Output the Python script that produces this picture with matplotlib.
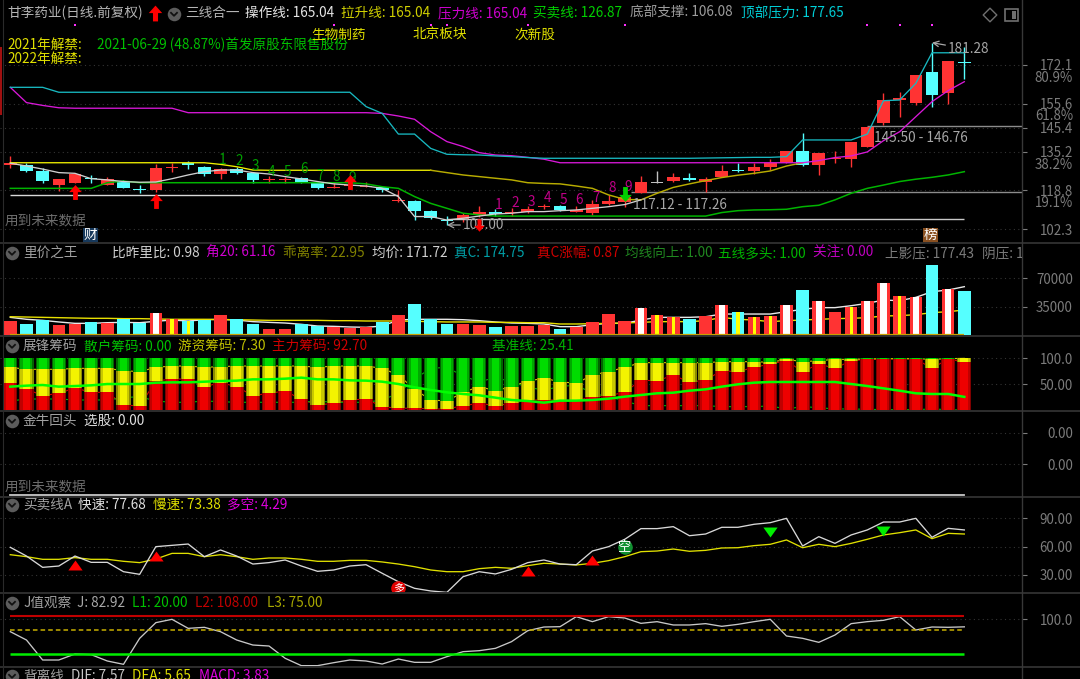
import matplotlib
matplotlib.use('Agg')
import matplotlib.pyplot as plt
import numpy as np
from matplotlib.patches import Rectangle

plt.rcParams['font.family'] = ['Noto Sans CJK SC', 'DejaVu Sans']
plt.rcParams['axes.unicode_minus'] = False

W, H = 1080, 679
FS = 9.8

# main panel, prices per bar
body_top = [130.3,129.7,126.9,123.4,125.7,124.2,123.4,122.9,119.2,128.4,128.6,130.6,128.8,127.7,127.8,126.0,123.6,123.4,123.9,121.7,
            120.0,121.0,120.8,120.3,114.7,114.4,110.0,106.1,108.1,109.5,109.5,109.5,111.0,112.1,112.0,110.4,113.0,114.4,116.1,122.5,
            122.5,124.6,124.0,123.4,127.0,127.4,128.8,130.5,135.6,135.6,134.5,132.4,139.3,145.9,157.2,158.2,167.8,169.0,173.7,173.5]
body_bot = [129.7,127.1,122.6,121.2,122.0,123.7,121.0,119.8,118.8,118.9,128.1,129.6,125.7,125.6,126.1,123.0,123.2,123.0,122.2,119.8,
            119.8,120.5,120.3,118.8,114.1,110.1,106.8,105.9,106.0,108.1,108.8,109.0,109.5,111.5,110.4,109.7,109.3,113.0,114.0,117.8,
            122.0,122.6,123.0,122.2,124.5,127.0,126.9,128.8,130.5,129.4,129.4,132.0,132.2,137.1,147.3,157.4,155.8,159.3,160.3,172.9]
high = [133.4,130.3,128.1,123.4,126.3,125.1,124.6,123.2,121.0,130.0,130.3,131.1,129.3,128.1,128.8,126.7,124.9,124.3,124.6,122.5,
        122.0,124.6,122.5,120.8,118.9,114.7,110.4,107.9,109.0,112.1,110.7,111.1,112.1,113.0,112.5,112.1,114.7,116.8,118.2,124.9,
        126.9,126.0,126.3,124.6,129.4,130.3,130.3,132.2,135.6,143.3,134.5,135.6,139.3,145.9,160.0,160.6,167.8,181.6,173.7,179.9]
low = [128.1,126.6,122.0,118.6,121.7,122.0,120.9,119.6,117.8,118.2,126.6,128.0,125.0,123.6,125.9,121.7,122.0,122.0,121.9,119.5,
       119.6,119.2,120.2,118.2,113.8,106.1,106.4,104.0,105.4,107.6,107.9,107.9,109.0,110.7,110.1,109.5,108.1,112.4,111.5,117.8,
       121.7,122.3,122.9,118.2,124.3,126.6,125.7,127.4,130.3,129.1,125.4,130.5,128.8,137.1,146.6,150.1,154.9,154.4,155.5,166.0]
cyan_bars = [1,2,5,7,8,11,12,14,15,18,19,23,25,26,27,30,34,42,45,49,57,59]
grey_bars = [40]

ma_white = [130.3,129.1,127.8,126.3,126.0,123.7,123.2,122.5,122.2,122.3,123.7,125.3,126.7,127.4,127.4,126.3,125.7,124.6,123.6,122.5,
            121.5,121.0,120.6,119.6,116.1,107.6,107.6,106.1,106.9,107.8,108.7,109.0,109.7,109.7,110.1,110.4,111.1,111.8,112.7,114.7]
ma_yellow = [130.5,130.5,130.5,130.5,130.5,130.5,130.5,130.5,130.5,130.5,130.5,130.5,130.5,129.8,128.8,127.4,127.3,127.3,127.3,127.3,
             127.3,127.3,127.3,127.3,127.3,127.3,127.3,126.3,125.3,124.6,123.9,123.2,122.0,121.7,121.5,120.6,119.6,116.8,114.9,114.7,
             117.5,120.0,121.5,122.9,124.2,125.2,126.0,127.0,129.1,130.5]
ma_magenta = [162.6,156.1,154.9,153.9,153.7,153.7,153.7,153.7,153.7,153.7,153.7,151.8,151.8,151.8,151.8,151.8,151.8,151.8,151.8,151.8,
              151.8,151.8,151.8,151.5,150.4,149.0,143.7,139.5,137.4,134.8,133.8,133.5,132.8,132.0,130.5,130.5,130.5,130.5,130.5,130.5,
              130.5,130.5,130.5,130.5,130.5,130.5,130.5,130.5,130.5,130.5,131.4,132.7,133.4,135.1,139.9,143.7,150.1,156.5,161.2,165.0]
ma_cyan = [162.6,162.6,162.6,160.5,160.5,160.5,160.5,160.5,160.5,160.5,160.5,160.5,160.5,160.5,160.5,160.5,160.5,160.5,160.5,160.5,
           160.5,160.5,154.4,151.5,142.7,142.7,136.6,134.1,133.9,133.8,133.4,133.1,132.7,132.4,132.4,132.4,132.4,132.4,132.4,132.4,
           132.4,132.4,132.4,132.5,132.6,132.7,132.8,132.8,133.1,140.2,140.2,140.2,140.2,142.7,156.9,157.2,164.3,177.3,177.3,177.3]
ma_green = [119.6,119.6,119.6,119.6,119.6,119.6,122.0,122.7,122.0,122.0,122.0,122.0,122.0,122.0,122.0,122.0,122.0,122.0,122.0,122.0,
            122.0,122.0,121.5,120.3,119.6,116.1,113.2,111.1,109.0,108.3,107.8,107.8,107.8,107.8,107.8,107.8,107.8,107.8,107.8,107.8,
            107.8,107.8,107.8,107.8,109.3,110.1,110.4,110.5,110.7,111.8,112.4,114.7,117.5,119.6,121.0,122.5,123.5,124.3,125.3,126.7]
price_ticks = [172.1,155.6,145.4,135.2,118.8,102.3]
pct_levels = [166.7,150.4,129.5,113.2]
pct_labels = ['80.9%','61.8%','38.2%','19.1%']
dot_bars = [4,20,26,27,32,38,53,55,57]
count_green_bars = [13,14,15,16,17,18,19,20,21]
count_green_prices = [131.7,131.1,129.1,126.7,126.7,127.7,125.0,124.6,123.9]
count_purple_bars = [30,31,32,33,34,35,36,37,38]
count_purple_prices = [112.5,113.5,113.7,115.4,114.7,114.7,115.4,119.6,120.3]
arrow_up_bars = [4,9,21]
arrow_up_prices = [118.2,114.1,122.2]

# volume panel
volume = [17700,13600,18500,11900,13600,16100,14800,19400,14400,27600,19400,17300,18900,24700,19400,13600,7800,7800,13200,11500,
          9500,9100,9500,16500,24700,38700,19400,13600,13600,12400,9500,11500,10700,11900,7800,9500,16100,25900,17700,33400,
          24700,21800,20200,23100,37100,28800,21800,23500,37100,55600,41600,28800,34200,41600,63800,48600,47400,86500,56400,53900]
vol_ma_white = [21800,19400,18100,16100,14400,14400,15200,15600,15200,16900,18500,17300,18900,19400,18500,16500,15600,14800,13200,11100,
                10700,9900,9500,11100,18500,19400,19400,19400,18900,17700,16100,14800,14400,13600,10300,10300,12800,14400,14400,18500,
                21800,21800,21800,22600,25900,25900,25900,25900,28800,31700,33800,33800,36200,39100,43200,42400,46500,53500,55600,59700]
vol_ma_yellow = [22600,22200,21800,21400,21000,20600,20600,20200,20200,19800,19400,19400,19400,18900,18900,18500,18100,18100,18100,18100,
                 17700,17700,17300,17300,17300,16900,16500,16100,16100,16100,15600,15600,15200,15200,13600,13600,14000,14400,14800,15600,
                 16500,16500,16500,17700,21800,19400,18500,16500,17700,18500,19400,20200,20600,21400,23500,23900,25100,27600,28800,30900]
white_core = [9,39,44,48,50,53,54,56,58]
yellow_core = [10,11,40,41,45,46,47,52,55]
vol_ticks = [70000,35000]

# chips panel
chip_main = [51.6,40.6,27.7,32.3,42.6,34.2,34.2,9.7,7.7,56.1,60.0,60.0,45.2,52.9,45.2,27.7,32.3,36.8,20.6,9.7,
             12.9,19.4,21.3,6.5,3.2,3.9,1.9,1.9,8.4,12.9,8.4,12.9,19.4,19.4,19.4,18.1,25.8,27.7,34.2,58.1,
             56.1,67.7,53.5,58.1,76.1,74.2,82.6,89.0,95.5,74.2,89.0,80.6,95.5,98.0,98.7,98.7,98.7,80.6,98.7,92.7]
chip_hot = [82.6,78.7,78.7,78.7,80.6,80.6,80.6,76.1,74.2,82.6,85.1,85.1,82.6,83.9,85.1,85.1,85.1,85.1,85.1,82.6,
            85.1,85.1,85.1,80.6,67.7,40.0,19.4,17.4,34.2,45.2,37.4,45.2,56.1,61.3,54.8,51.6,67.7,74.2,82.6,91.6,
            91.6,91.6,91.6,91.6,93.5,93.5,93.5,92.2,98.0,93.5,95.5,98.0,98.0,98.7,99.3,99.3,99.3,98.0,99.3,100.0]
chip_base = [45.2,47.1,48.4,45.2,46.4,47.7,50.3,50.3,50.3,52.9,53.5,53.5,54.8,56.1,56.8,59.3,59.3,60.6,62.6,59.3,
             59.3,57.4,56.8,54.8,50.3,43.9,38.7,34.2,31.0,28.4,23.9,19.4,17.4,14.2,18.1,18.1,19.4,21.9,25.8,29.0,
             32.3,33.5,37.4,40.0,45.2,49.7,52.9,54.2,54.2,54.2,54.2,54.2,50.3,46.4,41.9,37.4,32.3,31.0,31.0,25.4]
chip_ticks = [100,50]
chip_tick_labels = ['100.0','50.00']

# buy/sell panel
fast = [59.3,50.1,38.1,39.5,50.1,43.4,43.4,33.5,30.7,60.0,61.4,62.8,49.4,56.5,50.1,41.6,43.1,45.9,39.5,33.9,
        35.3,39.5,40.9,31.8,22.9,15.9,13.1,11.6,28.2,33.5,31.1,36.0,43.1,45.9,41.6,40.9,55.4,60.0,67.8,79.1,
        79.1,81.2,71.6,73.4,80.5,80.5,83.7,85.4,90.0,60.7,70.6,63.5,72.4,77.7,86.1,86.1,90.0,69.9,79.4,77.7]
slow = [51.5,49.4,46.6,46.6,48.4,46.6,46.6,44.5,43.1,46.9,52.9,52.9,49.4,51.5,49.4,46.6,48.0,48.0,46.6,44.5,
        44.5,45.5,45.5,43.8,41.6,38.8,35.3,33.5,33.5,36.7,38.1,37.1,39.9,42.4,41.6,40.6,42.4,45.2,49.4,54.7,
        55.4,57.5,55.1,56.1,58.6,58.9,61.1,62.5,67.1,58.9,62.5,60.0,63.5,67.8,72.4,74.8,77.7,68.5,74.1,73.4]
tri_up_bars = [4,9,32,36]
tri_up_vals = [40.2,50.1,33.9,45.5]
tri_down_bars = [47,54]
tri_down_vals = [75.2,76.6]
buy_ticks = [90,60,30]

# J panel
j_line = [71.7,52.4,6.1,6.1,20.0,18.5,3.8,-3.9,56.3,92.6,100.3,79.4,81.8,71.7,52.4,40.8,38.5,10.0,-7.0,-7.0,
          -0.1,6.1,3.8,-3.2,8.4,0.7,0.7,13.8,25.4,27.7,33.1,48.6,74.0,82.5,83.3,106.5,94.9,106.5,103.4,91.0,
          94.9,87.2,87.2,90.3,84.1,88.7,94.9,100.3,61.7,56.3,47.0,64.0,90.3,94.9,98.0,106.5,75.6,82.5,81.8,82.9]
j_l1, j_l2, j_l3 = 20.0, 108.0, 75.0

RED = '#ff3333'
CYAN = '#55ffff'
GREY = '#a8a8a8'
TICK = '#7c7c7c'
LINE = '#2e2e2e'
UP_ARROW = [(-.32, -1), (.32, -1), (.32, .05), (.85, .05), (0, 1), (-.85, .05), (-.32, .05)]
DOWN_ARROW = [(a, -b) for a, b in UP_ARROW]
n = len(high)
x = np.arange(n)
X0, XPX = 10.3, 16.17
xlim = ((0 - X0) / XPX, (1022 - X0) / XPX)


def panel(top, bottom, p1, p2):
    ax = fig.add_axes([0, 1 - bottom / H, 1022 / W, (bottom - top) / H])
    slope = (p2[1] - p1[1]) / (p2[0] - p1[0])
    ax.set_ylim(p1[1] + (bottom - p1[0]) * slope, p1[1] + (top - p1[0]) * slope)
    ax.set_xlim(*xlim)
    ax.set_facecolor('black')
    for s in ax.spines.values():
        s.set_visible(False)
    ax.xaxis.set_visible(False)
    ax.yaxis.tick_right()
    ax.tick_params(axis='y', colors=TICK, length=3.6, width=0.8, pad=33, labelsize=FS - 0.2)
    ax.grid(axis='y', linestyle=(0, (1, 3)), color='#343434', lw=0.8)
    ax.set_axisbelow(True)
    return ax


def ticks(ax, vals, labels):
    ax.set_yticks(vals)
    ax.set_yticklabels(labels, ha='right')


fig = plt.figure(figsize=(W / 100, H / 100), dpi=100, facecolor='black')

# --- main
ax = panel(0, 243, (65, 172.1), (229, 102.3))
ticks(ax, price_ticks, ['%.1f' % v for v in price_ticks])
colors = [CYAN if i in cyan_bars else ('#c0c0c0' if i in grey_bars else RED) for i in range(n)]
ax.vlines(x, low, high, colors=colors, lw=1.0, zorder=2)
ax.bar(x, np.array(body_top) - np.array(body_bot), bottom=body_bot, width=0.78, color=colors, zorder=2.1)
ax.hlines(116.8, 0, 24, color='#d8d8d8', lw=1.0, zorder=3)
ax.hlines(106.5, 27, 59, color='#c8c8c8', lw=1.0, zorder=3)
ax.hlines(146.3, 53.0, xlim[1], color='#8c8c8c', lw=1.0, zorder=1)
ax.hlines(118.1, 38.4, xlim[1], color='#8c8c8c', lw=1.0, zorder=1)
ax.plot(x[:27], ma_yellow[:27], color='#f0f000', lw=0.95, zorder=3)
ax.plot(x[26:50], ma_yellow[26:], color='#b8ac00', lw=1.05, zorder=3)
ax.plot(x, ma_magenta, color='#d818d8', lw=0.95, zorder=3)
ax.plot(x, ma_cyan, color='#18b8c0', lw=0.95, zorder=3)
ax.plot(x, ma_green, color='#00b400', lw=1.1, zorder=3)
ax.plot(x[:40], ma_white, color='#d0d0d0', lw=0.95, zorder=3)
ax.scatter(dot_bars, [189.1] * len(dot_bars), marker='s', s=4, color='#ff30ff', lw=0, zorder=3)
for i, p, lab in zip(count_green_bars, count_green_prices, '123456789'):
    ax.text(i + 0.15, p, lab, color='#00a000', fontsize=FS, ha='center', va='center', zorder=4)
for i, p, lab in zip(count_purple_bars, count_purple_prices, '123456789'):
    ax.text(i + 0.2, p, lab, color='#c00088', fontsize=FS, ha='center', va='center', zorder=4)
ax.scatter(arrow_up_bars, arrow_up_prices, marker=UP_ARROW, s=115, color='#ff0000', lw=0, zorder=6)
ax.scatter([29], [104.2], marker=DOWN_ARROW, s=80, color='#ff0000', lw=0, zorder=6)
ax.scatter([38], [117.3], marker=DOWN_ARROW, s=115, color='#00d000', lw=0, zorder=6)
ax.annotate('104.00', xy=(27, 104.0), xytext=(28.0, 104.0), color=GREY, fontsize=FS, va='center', zorder=5,
            arrowprops=dict(arrowstyle='->', color=GREY, lw=0.9, shrinkA=0, shrinkB=0))
ax.annotate('181.28', xy=(57, 181.6), xytext=(58.0, 178.8), color=GREY, fontsize=FS, va='center', zorder=5,
            arrowprops=dict(arrowstyle='->', color=GREY, lw=0.9, shrinkA=0, shrinkB=0))
ax.text(38.5, 112.7, '117.12 - 117.26', color=GREY, fontsize=FS, va='center', zorder=5)
ax.text(53.4, 141.2, '145.50 - 146.76', color=GREY, fontsize=FS, va='center', zorder=5)
for p, lab in zip(pct_levels, pct_labels):
    ax.text(1073 / 1022, p, lab, color=TICK, fontsize=FS - 0.2, ha='right', va='center',
            transform=ax.get_yaxis_transform(), clip_on=False)

# --- volume
ax = panel(243, 336, (335, 0), (306.67, 35000))
ticks(ax, vol_ticks, ['%d' % v for v in vol_ticks])
ax.plot(x, vol_ma_white, color='#e8e8e8', lw=1.0, zorder=1.5)
ax.plot(x, vol_ma_yellow, color='#e8e000', lw=1.0, zorder=1.5)
vol_colors = [CYAN if i in cyan_bars else RED for i in range(n)]
ax.bar(x, volume, width=0.78, color=vol_colors, zorder=2)
ax.bar(white_core, [volume[i] for i in white_core], width=0.38, color='white', zorder=2.1)
ax.bar(yellow_core, [volume[i] for i in yellow_core], width=0.2, color='#ffff00', zorder=2.1)
ax.hlines(500, 0, n - 1, color='#c8a000', lw=1.6, zorder=3)

# --- chips
ax = panel(336, 411, (358.33, 100), (410, 0))
ticks(ax, chip_ticks, chip_tick_labels)
main_v, hot_v = np.array(chip_main), np.array(chip_hot)
ax.plot(x, main_v, color='#d00000', lw=0.8, zorder=1.5)
ax.plot(x, hot_v, color='#c8c800', lw=0.8, zorder=1.5)
ax.plot(x, 100 - hot_v, color='#00b000', lw=0.8, zorder=1.5)
layers = [(0.88, '#800000', '#8c8c00', '#006400', 2), (0.74, '#c00000', '#c8c800', '#00a800', 2.1),
          (0.48, '#ee0000', '#f4f400', '#00dc00', 2.2)]
for wid, r, yc, g, z in layers:
    ax.bar(x, main_v, width=wid, color=r, zorder=z)
    ax.bar(x, hot_v - main_v, bottom=main_v, width=wid, color=yc, zorder=z)
    ax.bar(x, 100 - hot_v, bottom=hot_v, width=wid, color=g, zorder=z)
ax.plot(x, chip_base, color='#00ff00', lw=1.8, zorder=3)

# --- jin niu
ax = panel(411, 497, (464, 0.001), (433, 0.002))
ticks(ax, [0.002, 0.001], ['0.00', '0.00'])
ax.plot(x, [0.0] * n, color='#c8c8c8', lw=1.3)

# --- buy / sell
ax = panel(497, 593, (518.33, 90), (575, 30))
ticks(ax, buy_ticks, ['%.2f' % v for v in buy_ticks])
ax.plot(x, slow, color='#e0e000', lw=0.95, zorder=2)
ax.plot(x, fast, color='#d8d8d8', lw=0.95, zorder=2.1)
ax.scatter(tri_up_bars, tri_up_vals, marker=[(-1, -0.7), (1, -0.7), (0, 0.7)], s=105, color='#ff0000', lw=0, zorder=3)
ax.scatter(tri_down_bars, tri_down_vals, marker=[(-1, 0.7), (1, 0.7), (0, -0.7)], s=105, color='#00ee00', lw=0, zorder=3)
ax.scatter([24], [15.9], s=110, color='#e00000', lw=0, zorder=3)
ax.text(24, 15.6, '多', color='white', fontsize=8, ha='center', va='center', zorder=4, clip_on=True)
ax.scatter([38], [59.3], s=110, color='#109030', lw=0, zorder=3)
ax.text(38, 59.0, '空', color='white', fontsize=9.5, ha='center', va='center', zorder=4)

# --- J
ax = panel(593, 667, (616, 108), (654, 20))
ticks(ax, [100], ['100.0'])
ax.plot(x, j_line, color='#c8c8c8', lw=0.95, zorder=2)
ax.hlines(j_l2, 0, n - 1, color='#c00000', lw=1.5, zorder=2.1)
ax.hlines(j_l3, 0, n - 1, color='#c8b000', lw=1.1, linestyles=(0, (3, 2)), zorder=2.1)
ax.hlines(j_l1, 0, n - 1, color='#00ee00', lw=1.8, zorder=2.1)

# --- overlay: frame, captions
ov = fig.add_axes([0, 0, 1, 1], zorder=10)
ov.set_xlim(0, W)
ov.set_ylim(H, 0)
ov.axis('off')
ov.patch.set_alpha(0)
for y in [243, 336, 411, 497, 593, 667]:
    ov.plot([0, W], [y, y], color=LINE, lw=1.4)
ov.plot([1022, 1022], [0, H], color='#383838', lw=1)
ov.plot([3, 3], [0, H], color='#2a2a2a', lw=0.8)
ov.add_patch(Rectangle((0, 47), 2, 68, color='#a01010', lw=0))


def put(px, py, s, color=GREY, clip=False):
    t = ov.text(px, py, s, color=color, fontsize=FS, ha='left', va='center')
    if clip:
        t.set_clip_on(True)
        t.set_clip_path(Rectangle((0, 0), 1022, H, transform=ov.transData))
    return t


def chevron(px, py):
    ov.scatter([px], [py], s=95, color='#5c5c5c', lw=0, zorder=4)
    ov.plot([px - 3, px, px + 3], [py - 1.2, py + 1.8, py - 1.2], color='#111111', lw=1.3, zorder=5)


header = [(7, '甘李药业(日线.前复权)', '#b4b4b4'), (185, '三线合一', '#b4b4b4'), (245, '操作线: 165.04', '#e6e6e6'),
          (341, '拉升线: 165.04', '#d0d000'), (438, '压力线: 165.04', '#d000d0'), (533, '买卖线: 126.87', '#00d000'),
          (630, '底部支撑: 106.08', '#9c9c9c'), (741, '顶部压力: 177.65', '#00d0d8')]
for px, s, c in header:
    put(px, 13, s, c)
ov.scatter([155], [13], marker=UP_ARROW, s=130, color='#ff0000', lw=0)
chevron(174, 14)
ov.scatter([990], [15], marker='D', s=48, facecolor='none', edgecolor='#707070', lw=1)
ov.add_patch(Rectangle((1005, 9), 13, 12, facecolor='none', edgecolor='#707070', lw=1.2))
ov.add_patch(Rectangle((1012, 11), 4, 8, color='#707070', lw=0))

put(7, 45, '2021年解禁:', '#e0e000')
put(97, 45, '2021-06-29 (48.87%)首发原股东限售股份', '#00c000')
put(7, 59, '2022年解禁:', '#e0e000')
put(311, 35, '生物制药', '#e0e000')
put(413, 35, '北京板块', '#e0e000')
put(514, 35, '次新股', '#e0e000')
put(5, 220, '用到未来数据', '#6c6c6c')
put(5, 486, '用到未来数据', '#6c6c6c')
ov.add_patch(Rectangle((83, 228), 15, 15, color='#17395c', lw=0))
ov.text(90.5, 235, '财', color='white', fontsize=FS, ha='center', va='center')
ov.add_patch(Rectangle((923, 228), 15, 15, color='#8a5020', lw=0))
ov.text(930.5, 235, '榜', color='white', fontsize=FS, ha='center', va='center')

captions = [
    (253, '里价之王', [(112, '比昨里比: 0.98', '#d0d0d0'), (206, '角20: 61.16', '#d000d0'), (283, '乖离率: 22.95', '#808000'),
                   (372, '均价: 171.72', '#d0d0d0'), (454, '真C: 174.75', '#00a0a8'), (537, '真C涨幅: 0.87', '#d00000'),
                   (625, '均线向上: 1.00', '#208820'), (718, '五线多头: 1.00', '#00b400'), (813, '关注: 0.00', '#c000c0'),
                   (885, '上影压: 177.43', '#7c7c7c'), (982, '阴压: 177.00', '#7c7c7c')]),
    (346, '展锋筹码', [(84, '散户筹码: 0.00', '#00c000'), (178, '游资筹码: 7.30', '#c0c000'), (272, '主力筹码: 92.70', '#d00000'),
                   (492, '基准线: 25.41', '#00b400')]),
    (421, '金牛回头', [(84, '选股: 0.00', '#e0e0e0')]),
    (505, '买卖线A', [(78, '快速: 77.68', '#e0e0e0'), (153, '慢速: 73.38', '#e0e000'), (227, '多空: 4.29', '#e000e0')]),
    (603, 'J值观察', [(77, 'J: 82.92', '#a8a8a8'), (132, 'L1: 20.00', '#00c000'), (195, 'L2: 108.00', '#c00000'),
                   (267, 'L3: 75.00', '#a8a800')]),
    (676, '背离线', [(71, 'DIF: 7.57', '#c8c8c8'), (132, 'DEA: 5.65', '#e0e000'), (199, 'MACD: 3.83', '#e000e0')]),
]
for py, title, items in captions:
    chevron(12, py)
    put(23, py, title, '#a0a0a0')
    for px, s, c in items:
        put(px, py, s, c, clip=True)

fig.savefig('out.png', dpi=100, facecolor='black')
